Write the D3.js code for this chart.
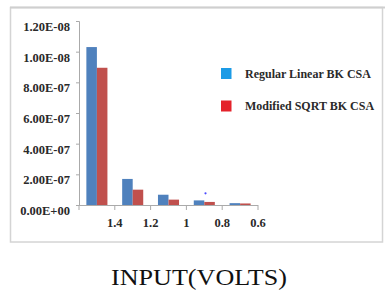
<!DOCTYPE html>
<html lang="en">
<head>
<meta charset="utf-8">
<title>BK CSA</title>
<script src="https://d3js.org/d3.v7.min.js"></script>
<style>
  body { margin: 0; background: #fff; }
  text { font-family: "Liberation Serif", "Times New Roman", serif; }
</style>
</head>
<body>
<script>
// data (values in units of the "1.00E-08" tick)
var inputs = ["1.4", "1.2", "1", "0.8", "0.6"];
var regular = [1.03, 0.17, 0.067, 0.03, 0.012];
var modified = [0.895, 0.10, 0.035, 0.02, 0.01];
var seriesNames = ["Regular Linear BK CSA", "Modified SQRT BK CSA"];
var yTickValues = [0, 0.2, 0.4, 0.6, 0.8, 1.0, 1.2];
var yTickLabels = ["0.00E+00", "2.00E-07", "4.00E-07", "6.00E-07", "8.00E-07", "1.00E-08", "1.20E-08"];

var w = 385, h = 304;
var svg = d3.select("body").append("svg")
  .attr("width", w).attr("height", h);

// outer frame
svg.append("rect")
  .attr("x", 10.5).attr("y", 7.5)
  .attr("width", 372).attr("height", 234.5)
  .attr("fill", "none").attr("stroke", "#d4d4d4").attr("stroke-width", 1.5);
svg.append("line")
  .attr("x1", 10).attr("x2", 385).attr("y1", 7.5).attr("y2", 7.5)
  .attr("stroke", "#cfcfcf").attr("stroke-width", 2);

var xScale = d3.scaleBand().domain(inputs).range([79, 258]);
var inner = d3.scaleBand().domain([0, 1]).range([0, xScale.bandwidth()])
  .paddingInner(0).paddingOuter(0.7);
var yScale = d3.scaleLinear().domain([0, 1.2]).range([205, 21]);

// y axis
var yAxis = d3.axisLeft(yScale)
  .tickValues(yTickValues)
  .tickSize(3)
  .tickPadding(6)
  .tickFormat(function(d, i) { return yTickLabels[i]; });
var gy = svg.append("g").attr("transform", "translate(79,0)").call(yAxis);
gy.select(".domain").attr("stroke", "#aaa");
gy.selectAll(".tick line").attr("stroke", "#aaa");
gy.selectAll(".tick text")
  .attr("dy", "0.75em")
  .attr("font-size", "12.5px").attr("font-weight", "bold")
  .attr("fill", "#2a2a2a")
  .style("font-family", "Liberation Serif, serif");

// x axis: ticks at band edges, labels at right edge of each band
var gx = svg.append("g");
gx.append("line")
  .attr("x1", 79).attr("x2", 258).attr("y1", 205.5).attr("y2", 205.5)
  .attr("stroke", "#aaa");
var edges = [xScale(inputs[0])].concat(inputs.map(function(d) { return xScale(d) + xScale.bandwidth(); }));
gx.selectAll("line.tk").data(edges).enter().append("line")
  .attr("class", "tk")
  .attr("x1", function(d) { return d; }).attr("x2", function(d) { return d; })
  .attr("y1", 205).attr("y2", 210)
  .attr("stroke", "#aaa");
gx.selectAll("text").data(inputs).enter().append("text")
  .attr("x", function(d) { return xScale(d) + xScale.bandwidth(); })
  .attr("y", 227)
  .attr("text-anchor", "middle")
  .attr("font-size", "12.5px").attr("font-weight", "bold")
  .attr("fill", "#2a2a2a")
  .text(function(d) { return d; });

// bars
var bars = svg.append("g");
[regular, modified].forEach(function(vals, s) {
  bars.selectAll("rect.s" + s).data(vals).enter().append("rect")
    .attr("class", "s" + s)
    .attr("x", function(d, i) { return xScale(inputs[i]) + inner(s); })
    .attr("y", function(d) { return yScale(d); })
    .attr("width", inner.bandwidth())
    .attr("height", function(d) { return yScale(0) - yScale(d); })
    .attr("fill", s === 0 ? "#4f81bd" : "#c0504d");
});

// stray dot
svg.append("circle")
  .attr("cx", 205.5).attr("cy", 193.3).attr("r", 1.1)
  .attr("fill", "#4a4aff");

// legend
var legendColors = ["#1c9be6", "#e4222b"];
var lg = svg.append("g").attr("transform", "translate(221,68)");
seriesNames.forEach(function(name, i) {
  lg.append("rect")
    .attr("x", 0).attr("y", i * 32.5)
    .attr("width", 10.5).attr("height", 11)
    .attr("fill", legendColors[i]);
  lg.append("text")
    .attr("x", 24).attr("y", i * 32.5 + 9.5)
    .attr("font-size", "12px").attr("font-weight", "bold")
    .attr("fill", "#2a2a2a")
    .text(name);
});

// x title
svg.append("text")
  .attr("x", 199).attr("y", 285)
  .attr("text-anchor", "middle")
  .attr("font-size", "23px")
  .attr("textLength", 176)
  .attr("lengthAdjust", "spacingAndGlyphs")
  .attr("fill", "#111")
  .text("INPUT(VOLTS)");
</script>
</body>
</html>
